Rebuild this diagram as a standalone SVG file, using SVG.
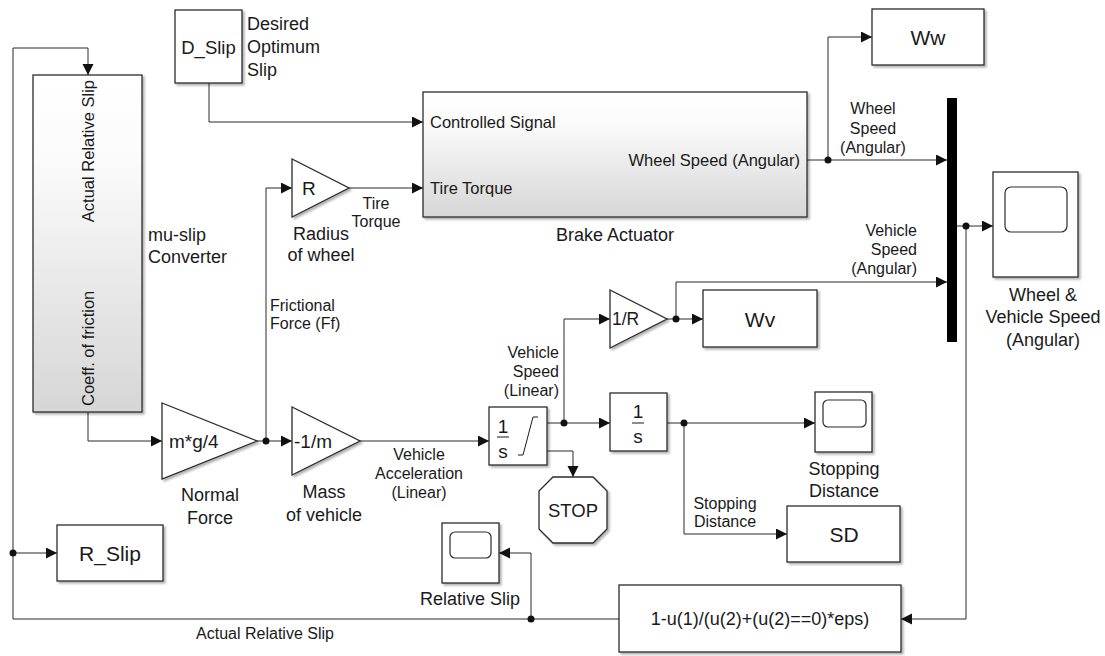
<svg xmlns="http://www.w3.org/2000/svg" width="1105" height="656" viewBox="0 0 1105 656">
<defs>
<style>
text{font-family:"Liberation Sans",Arial,sans-serif;fill:#1a1a1a;dominant-baseline:central}
.blk{fill:#fff;stroke:#2b2b2b;stroke-width:1.3;filter:url(#sh)}
.grd{fill:url(#g1);stroke:#2b2b2b;stroke-width:1.3;filter:url(#sh)}
.scr{fill:#fff;stroke:#2b2b2b;stroke-width:1.2}
.ln{fill:none;stroke:#2b2b2b;stroke-width:1}
.arr{marker-end:url(#ah)}
.dot{fill:#111}
.bl{font-size:18px;text-anchor:middle}
.ll{font-size:16px}
.pl{font-size:16.5px}
.big{font-size:21px;text-anchor:middle}
.g{font-size:19px}
.c{text-anchor:middle}
.e{text-anchor:end}
</style>
<linearGradient id="g1" x1="0" y1="0" x2="0" y2="1">
<stop offset="0" stop-color="#ffffff"/>
<stop offset="0.25" stop-color="#fbfbfb"/>
<stop offset="1" stop-color="#d6d6d6"/>
</linearGradient>
<filter id="sh" x="-10%" y="-10%" width="130%" height="130%">
<feDropShadow dx="2" dy="2" stdDeviation="1.2" flood-color="#000" flood-opacity="0.3"/>
</filter>
<marker id="ah" markerUnits="userSpaceOnUse" markerWidth="12" markerHeight="12" refX="11" refY="5.5" orient="auto">
<path d="M0,0 L11,5.5 L0,11 z" fill="#111"/>
</marker>
</defs>

<g id="connectors">
<path class="ln arr" d="M619 619 H13 V48 H88 V75"/>
<path class="ln arr" d="M13 553 H57"/>
<path class="ln arr" d="M531 619 V553 H499"/>
<path class="ln arr" d="M209 83 V122 H423"/>
<path class="ln arr" d="M349 188 H423"/>
<path class="ln arr" d="M266 441 V188 H292"/>
<path class="ln arr" d="M88 412 V441 H162"/>
<path class="ln arr" d="M257 441 H292"/>
<path class="ln arr" d="M360 441 H489"/>
<path class="ln arr" d="M547 423 H610"/>
<path class="ln arr" d="M564 423 V319 H610"/>
<path class="ln arr" d="M547 451 H573 V477"/>
<path class="ln arr" d="M667 319 H703"/>
<path class="ln arr" d="M676 319 V282 H947"/>
<path class="ln arr" d="M667 423 H815"/>
<path class="ln arr" d="M684 423 V534 H787"/>
<path class="ln arr" d="M807 160 H947"/>
<path class="ln arr" d="M828 160 V37 H872"/>
<path class="ln arr" d="M957 226 H993"/>
<path class="ln arr" d="M966 226 V619 H901"/>
<circle class="dot" cx="13" cy="553" r="3.5"/>
<circle class="dot" cx="531" cy="619" r="3.5"/>
<circle class="dot" cx="266" cy="441" r="3.5"/>
<circle class="dot" cx="564" cy="423" r="3.5"/>
<circle class="dot" cx="676" cy="319" r="3.5"/>
<circle class="dot" cx="684" cy="423" r="3.5"/>
<circle class="dot" cx="828" cy="160" r="3.5"/>
<circle class="dot" cx="966" cy="226" r="3.5"/>
<text class="ll c" x="265" y="633">Actual Relative Slip</text>
<text class="ll c" x="376" y="203">Tire</text>
<text class="ll c" x="376" y="221">Torque</text>
<text class="ll" x="270" y="305">Frictional</text>
<text class="ll" x="270" y="323">Force (Ff)</text>
<text class="ll c" x="419" y="454">Vehicle</text>
<text class="ll c" x="419" y="473">Acceleration</text>
<text class="ll c" x="419" y="492">(Linear)</text>
<text class="ll e" x="559" y="352">Vehicle</text>
<text class="ll e" x="559" y="371">Speed</text>
<text class="ll e" x="559" y="390">(Linear)</text>
<text class="ll c" x="873" y="108">Wheel</text>
<text class="ll c" x="873" y="128">Speed</text>
<text class="ll c" x="873" y="147">(Angular)</text>
<text class="ll e" x="917" y="230">Vehicle</text>
<text class="ll e" x="917" y="249">Speed</text>
<text class="ll e" x="917" y="268">(Angular)</text>
<text class="ll c" x="725" y="503">Stopping</text>
<text class="ll c" x="725" y="521">Distance</text>
</g>

<g id="mu-slip">
<rect class="grd" x="33" y="75" width="109" height="337"/>
<text class="pl e" transform="translate(88,80) rotate(-90)">Actual Relative Slip</text>
<text class="pl" transform="translate(88,406) rotate(-90)">Coeff. of friction</text>
<text class="bl" x="148" y="235" style="text-anchor:start">mu-slip</text>
<text class="bl" x="148" y="257" style="text-anchor:start">Converter</text>
</g>

<g id="d-slip">
<rect class="blk" x="175" y="10" width="67" height="73"/>
<text class="c" x="208.5" y="47" style="font-size:18.5px">D_Slip</text>
<text class="bl" x="247" y="24" style="text-anchor:start">Desired</text>
<text class="bl" x="247" y="47" style="text-anchor:start">Optimum</text>
<text class="bl" x="247" y="70" style="text-anchor:start">Slip</text>
</g>

<g id="brake-actuator">
<rect class="grd" x="423" y="92" width="384" height="125"/>
<text class="pl" x="430" y="122">Controlled Signal</text>
<text class="pl" x="430" y="188">Tire Torque</text>
<text class="pl e" x="800" y="160">Wheel Speed (Angular)</text>
<text class="bl" x="615" y="235">Brake Actuator</text>
</g>

<g id="gain-r">
<polygon class="blk" points="292,159 349,188 292,217"/>
<text class="g" x="302" y="188">R</text>
<text class="bl" x="321" y="234">Radius</text>
<text class="bl" x="321" y="255">of wheel</text>
</g>

<g id="normal-force">
<polygon class="blk" points="162,403 257,441 162,479"/>
<text class="g" x="169" y="441">m*g/4</text>
<text class="bl" x="210" y="495">Normal</text>
<text class="bl" x="210" y="518">Force</text>
</g>

<g id="mass">
<polygon class="blk" points="292,407 360,441 292,475"/>
<text class="g" x="294" y="441">-1/m</text>
<text class="bl" x="324" y="492">Mass</text>
<text class="bl" x="324" y="515">of vehicle</text>
</g>

<g id="integrator">
<rect class="blk" x="489" y="407" width="58" height="58"/>
<text class="g c" x="503" y="426">1</text>
<line x1="497" y1="437" x2="509" y2="437" stroke="#1a1a1a" stroke-width="1"/>
<text class="g c" x="503" y="451">s</text>
<path d="M518 455 H523 L533 417 H538" fill="none" stroke="#1a1a1a" stroke-width="1"/>
</g>

<g id="stop">
<polygon class="blk" points="553,477 593,477 607,491 607,529 593,543 553,543 539,529 539,491"/>
<text class="c" x="573" y="510" style="font-size:18.5px">STOP</text>
</g>

<g id="gain-1r">
<polygon class="blk" points="610,290 667,319 610,348"/>
<text class="g" x="612" y="319" style="font-size:17.5px">1/R</text>
</g>

<g id="wv">
<rect class="blk" x="703" y="290" width="114" height="57"/>
<text class="big" x="760" y="319">Wv</text>
</g>

<g id="integrator2">
<rect class="blk" x="610" y="393" width="57" height="58"/>
<text class="g c" x="638" y="411">1</text>
<line x1="632" y1="423" x2="644" y2="423" stroke="#1a1a1a" stroke-width="1"/>
<text class="g c" x="638" y="436">s</text>
</g>

<g id="stopping-distance-scope">
<rect class="blk" x="815" y="392" width="57" height="60"/>
<rect class="scr" x="823" y="400" width="43" height="27" rx="5"/>
<text class="bl" x="844" y="469">Stopping</text>
<text class="bl" x="844" y="491">Distance</text>
</g>

<g id="sd">
<rect class="blk" x="787" y="506" width="113" height="56"/>
<text class="big" x="844" y="534">SD</text>
</g>

<g id="fcn">
<rect class="blk" x="619" y="585" width="282" height="67"/>
<text class="bl" x="760" y="619">1-u(1)/(u(2)+(u(2)==0)*eps)</text>
</g>

<g id="ww">
<rect class="blk" x="872" y="9" width="112" height="56"/>
<text class="big" x="928" y="37">Ww</text>
</g>

<g id="mux">
<rect x="947" y="98" width="10" height="244" fill="#000"/>
</g>

<g id="speed-scope">
<rect class="blk" x="993" y="172" width="85" height="105"/>
<rect class="scr" x="1005" y="187" width="62" height="45" rx="6"/>
<text class="bl" x="1043" y="295">Wheel &amp;</text>
<text class="bl" x="1043" y="317">Vehicle Speed</text>
<text class="bl" x="1043" y="340">(Angular)</text>
</g>

<g id="r-slip">
<rect class="blk" x="57" y="525" width="106" height="56"/>
<text class="big" x="110" y="553">R_Slip</text>
</g>

<g id="relative-slip-scope">
<rect class="blk" x="442" y="523" width="57" height="60"/>
<rect class="scr" x="450" y="532" width="41" height="26" rx="5"/>
<text class="bl" x="470" y="599">Relative Slip</text>
</g>
</svg>
